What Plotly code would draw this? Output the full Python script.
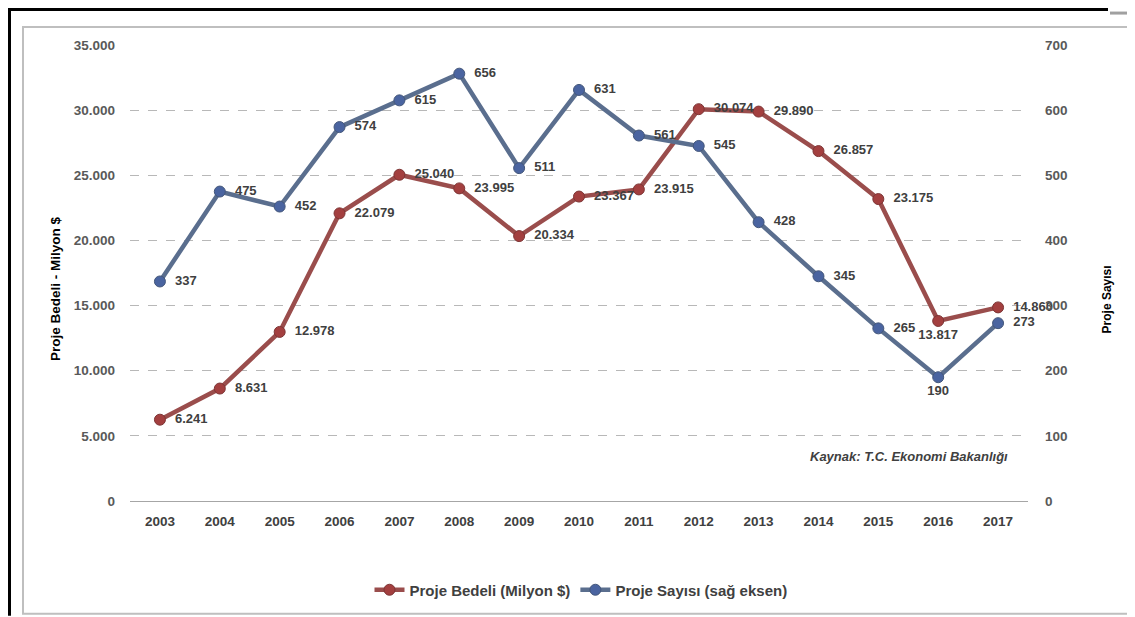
import plotly.graph_objects as go

# veriler
yillar = ["2003", "2004", "2005", "2006", "2007", "2008", "2009", "2010",
          "2011", "2012", "2013", "2014", "2015", "2016", "2017"]
proje_bedeli = [6241, 8631, 12978, 22079, 25040, 23995, 20334, 23367,
                23915, 30074, 29890, 26857, 23175, 13817, 14860]
proje_sayisi = [337, 475, 452, 574, 615, 656, 511, 631,
                561, 545, 428, 345, 265, 190, 273]

SAG = "middle right"
ALT = "bottom center"
bedel_konum = [SAG] * 13 + [ALT, SAG]
sayi_konum = [SAG] * 13 + [ALT, SAG]


def etiket(konumlar):
    # sağdaki etiketleri noktadan biraz uzaklaştır
    return ["\u00a0\u00a0%{y:,d}" if k == SAG else "%{y:,d}" for k in konumlar]


# sayfa gövdesinin 8 px kenar boşluğu düşülerek ekran pikselleri
OFS = 8
W, H = 1135 - OFS, 617 - OFS
L, R, T, B = 130, 1028, 45, 502  # çizim alanı (ekran pikseli)


def px(x):
    return (x - L) / (R - L)


def py(y):
    return (B - y) / (B - T)


FONT = "Liberation Sans Narrow, Liberation Sans, Arial"
KIRMIZI = "#9a4d4c"
MAVI = "#5a6e8e"
YAZI = "#404040"

fig = go.Figure()

fig.add_trace(go.Scatter(
    x=yillar, y=proje_bedeli, name="Proje Bedeli (Milyon $)",
    mode="lines+markers+text",
    line=dict(color=KIRMIZI, width=4.5),
    marker=dict(color="#a33f3f", size=11, line=dict(color="#7d3535", width=1)),
    texttemplate=etiket(bedel_konum), textposition=bedel_konum,
    textfont=dict(family=FONT, size=13, color=YAZI, weight="bold"),
    cliponaxis=False,
))

fig.add_trace(go.Scatter(
    x=yillar, y=proje_sayisi, name="Proje Sayısı (sağ eksen)",
    yaxis="y2", mode="lines+markers+text",
    line=dict(color=MAVI, width=4.5),
    marker=dict(color="#4a64a0", size=11, line=dict(color="#44577a", width=1)),
    texttemplate=etiket(sayi_konum), textposition=sayi_konum,
    textfont=dict(family=FONT, size=13, color=YAZI, weight="bold"),
    cliponaxis=False,
))

fig.update_layout(
    width=W, height=H,
    margin=dict(l=L - OFS, r=1135 - R, t=T - OFS, b=617 - B),
    paper_bgcolor="white", plot_bgcolor="white",
    separators=",.",
    font=dict(family=FONT, size=13, color="#595959"),
    xaxis=dict(
        type="category", range=[-0.5, 14.5],
        showgrid=False, showline=True, linecolor="#a6a6a6", linewidth=1,
        ticks="", ticklabelstandoff=8,
        tickfont=dict(family=FONT, size=13.5, color=YAZI, weight="bold"),
    ),
    yaxis=dict(
        range=[0, 35000], dtick=5000, tickformat=",d",
        showgrid=True, gridcolor="#b8b8b8", griddash="dash", gridwidth=1,
        zeroline=False, ticks="", ticklabelstandoff=14,
        tickfont=dict(family=FONT, size=13.5, color="#595959", weight="bold"),
    ),
    yaxis2=dict(
        range=[0, 700], dtick=100, overlaying="y", side="right",
        showgrid=False, zeroline=False, ticks="", ticklabelstandoff=16,
        tickfont=dict(family=FONT, size=13.5, color="#595959", weight="bold"),
    ),
    legend=dict(
        orientation="h", x=px(581), xanchor="center", y=py(590), yanchor="middle",
        font=dict(family=FONT, size=15, color=YAZI, weight="bold"),
    ),
    showlegend=True,
)

# eksen başlıkları ve kaynak notu
fig.add_annotation(x=px(46), y=py(289), xref="paper", yref="paper",
                   text="<b>Proje Bedeli - Milyon $</b>", textangle=-90,
                   showarrow=False, font=dict(family=FONT, size=13.5, color="black"))
fig.add_annotation(x=px(1116), y=py(300), xref="paper", yref="paper",
                   text="<b>Proje Sayısı</b>", textangle=-90,
                   showarrow=False, font=dict(family=FONT, size=12, color="black"))
fig.add_annotation(x=px(1010), y=py(467), xref="paper", yref="paper",
                   xanchor="right", text="<b><i>Kaynak: T.C. Ekonomi Bakanlığı</i></b>",
                   showarrow=False, font=dict(family=FONT, size=13, color=YAZI))

# çerçeveler
fig.add_shape(type="rect", xref="paper", yref="paper",
              x0=px(23), x1=px(1131), y0=py(615), y1=py(27),
              line=dict(color="#bfbfbf", width=2), layer="below")
fig.add_shape(type="line", xref="paper", yref="paper",
              x0=px(8), x1=px(1108), y0=py(9), y1=py(9),
              line=dict(color="black", width=4))
fig.add_shape(type="line", xref="paper", yref="paper",
              x0=px(9), x1=px(9), y0=py(7), y1=py(617),
              line=dict(color="black", width=4))
fig.add_shape(type="line", xref="paper", yref="paper",
              x0=px(1110), x1=px(1135), y0=py(13), y1=py(13),
              line=dict(color="#a0a0a0", width=3))

fig.write_html("out.html")
